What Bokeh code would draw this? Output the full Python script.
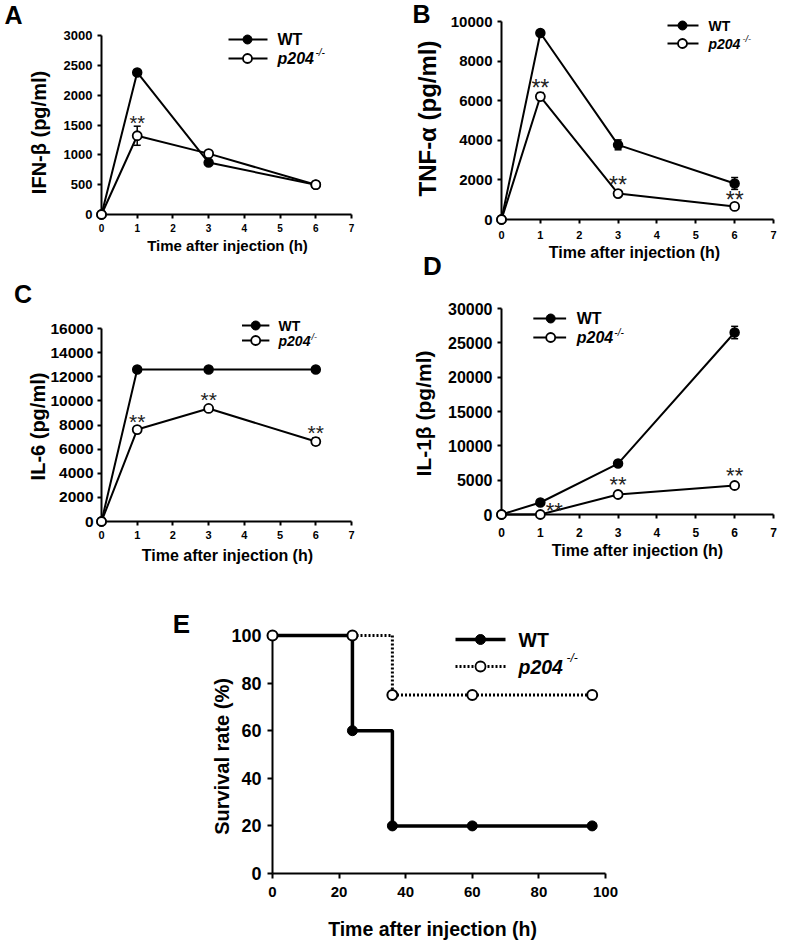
import numpy as np
from bokeh.plotting import figure
from bokeh.layouts import row, column
from bokeh.models import Range1d, FixedTicker
from bokeh.core.properties import value
from bokeh.embed import file_html
from bokeh.resources import INLINE

FONT = "Liberation Sans"

# ---------------- data ----------------
hours = [0, 1, 3, 6]
hour_ticks = [0, 1, 2, 3, 4, 5, 6, 7]

ifnb_wt = [0, 2380, 870, 500]
ifnb_wt_err = [0, 40, 40, 25]
ifnb_ko = [0, 1320, 1020, 500]
ifnb_ko_err = [0, 160, 30, 20]
ifnb_sig = [0, 1, 0, 0]
ifnb_ticks = [0, 500, 1000, 1500, 2000, 2500, 3000]

tnfa_wt = [0, 9420, 3770, 1820]
tnfa_wt_err = [0, 120, 250, 300]
tnfa_ko = [0, 6210, 1310, 660]
tnfa_ko_err = [0, 200, 80, 80]
tnfa_sig = [0, 1, 1, 1]
tnfa_ticks = [0, 2000, 4000, 6000, 8000, 10000]

il6_wt = [0, 12600, 12600, 12600]
il6_wt_err = [0, 150, 150, 150]
il6_ko = [0, 7620, 9370, 6630]
il6_ko_err = [0, 200, 200, 300]
il6_sig = [0, 1, 1, 1]
il6_ticks = [0, 2000, 4000, 6000, 8000, 10000, 12000, 14000, 16000]

il1b_wt = [0, 1750, 7420, 26500]
il1b_wt_err = [0, 250, 400, 900]
il1b_ko = [0, 0, 2910, 4220]
il1b_ko_err = [0, 0, 200, 250]
il1b_sig = [0, 1, 1, 1]
il1b_ticks = [0, 5000, 10000, 15000, 20000, 25000, 30000]

surv_hours = [0, 24, 36, 60, 96]
surv_wt = [100, 60, 20, 20, 20]
surv_ko = [100, 100, 75, 75, 75]
surv_hour_ticks = [0, 20, 40, 60, 80, 100]
surv_ticks = [0, 20, 40, 60, 80, 100]


# ---------------- helpers ----------------
class Panel:
    def __init__(self, box, frame, xr, yr):
        self.box, self.frame, self.xr, self.yr = box, frame, xr, yr
        fx, fy, fw, fh = box
        L, R, T, B = frame
        p = figure(width=fw, height=fh, x_range=Range1d(*xr), y_range=Range1d(*yr),
                   output_backend="svg", toolbar_location=None,
                   min_border_left=L - fx, min_border_right=fx + fw - R,
                   min_border_top=T - fy, min_border_bottom=fy + fh - B)
        p.grid.visible = False
        p.outline_line_color = None
        p.background_fill_color = "white"
        p.border_fill_color = "white"
        self.p = p

    def x(self, px):
        L, R, _, _ = self.frame
        return self.xr[0] + (px - L) / (R - L) * (self.xr[1] - self.xr[0])

    def y(self, py):
        _, _, T, B = self.frame
        return self.yr[0] + (B - py) / (B - T) * (self.yr[1] - self.yr[0])

    def label(self, px, py, text, fs, style="bold", align="center", baseline="middle",
              angle=0.0, color="black"):
        self.p.text([self.x(px)], [self.y(py)], text=[text], angle=angle,
                    text_font=value(FONT), text_font_size=f"{fs}px",
                    text_font_style=style, text_align=align, text_baseline=baseline,
                    text_color=color, level="overlay")


def style_axes(P, xticks, yticks, xfs, yfs, xstand, ystand, tick_out=4, lw=2):
    p = P.p
    for ax in (p.xaxis[0], p.yaxis[0]):
        ax.axis_line_width = lw
        ax.axis_line_color = "black"
        ax.major_tick_line_width = lw
        ax.major_tick_line_color = "black"
        ax.major_tick_out = tick_out
        ax.major_tick_in = 0
        ax.minor_tick_line_color = None
        ax.major_label_text_font = FONT
        ax.major_label_text_font_style = "bold"
        ax.major_label_text_color = "black"
    p.xaxis[0].ticker = FixedTicker(ticks=xticks)
    p.yaxis[0].ticker = FixedTicker(ticks=yticks)
    p.xaxis[0].major_label_text_font_size = f"{xfs}px"
    p.yaxis[0].major_label_text_font_size = f"{yfs}px"
    p.xaxis[0].major_label_standoff = xstand
    p.yaxis[0].major_label_standoff = ystand


def cytokine(P, wt, wt_err, ko, ko_err, sig, msize, star_fs, star_above, star_dx=None):
    p = P.p
    t = np.array(hours, float)
    p.line(t, wt, line_color="black", line_width=2, level="overlay")
    p.line(t, ko, line_color="black", line_width=2, level="overlay")
    for vals, errs in ((wt, wt_err), (ko, ko_err)):
        v = np.array(vals, float)
        e = np.array(errs, float)
        m = e > 0
        p.segment(x0=t[m], y0=v[m] - e[m], x1=t[m], y1=v[m] + e[m],
                  line_color="black", line_width=1.5, level="overlay")
        p.scatter(np.r_[t[m], t[m]], np.r_[v[m] - e[m], v[m] + e[m]], marker="dash",
                  size=7, line_color="black", line_width=1.5, level="overlay")
    p.scatter(t, wt, marker="circle", size=msize, fill_color="black",
              line_color="black", line_width=1.5, level="overlay")
    p.scatter(t, ko, marker="circle", size=msize, fill_color="white",
              line_color="black", line_width=1.8, level="overlay")
    s = np.array(sig, bool)
    n = int(s.sum())
    above = np.array(star_above, float)[s]
    dx = np.zeros(n) if star_dx is None else np.array(star_dx, float)[s]
    p.text(t[s], np.array(ko, float)[s], text=["**"] * n,
           x_offset=dx, y_offset=-(above - 0.2 * star_fs),
           text_font=value(FONT), text_font_size=f"{star_fs}px",
           text_align="center", text_baseline="alphabetic", text_color="#222222",
           level="overlay")


def legend(P, x0, x1, xm, y_wt, y_ko, tx, fs, sup_x, sup_y, sup_fs, msize,
           lw_wt=2, lw_ko=2, dash_ko="solid"):
    p = P.p
    p.line([P.x(x0), P.x(x1)], [P.y(y_wt)] * 2, line_color="black", line_width=lw_wt,
           level="overlay")
    p.scatter([P.x(xm)], [P.y(y_wt)], marker="circle", size=msize, fill_color="black",
              line_color="black", level="overlay")
    p.line([P.x(x0), P.x(x1)], [P.y(y_ko)] * 2, line_color="black", line_width=lw_ko,
           line_dash=dash_ko, level="overlay")
    p.scatter([P.x(xm)], [P.y(y_ko)], marker="circle", size=msize, fill_color="white",
              line_color="black", line_width=1.8, level="overlay")
    P.label(tx, y_wt, "WT", fs, align="left")
    P.label(tx, y_ko, "p204", fs, style="bold italic", align="left")
    P.label(sup_x, sup_y, "-/-", sup_fs, style="italic", align="left")


VERT = np.pi / 2
XT = "Time after injection (h)"

# ---------------- panel A ----------------
A = Panel((0, 0, 395, 270), (101, 351, 35, 214), (0, 7), (0, 3000))
style_axes(A, hour_ticks, ifnb_ticks, 10, 13, 5, 5)
cytokine(A, ifnb_wt, ifnb_wt_err, ifnb_ko, ifnb_ko_err, ifnb_sig, 9, 20,
         [0, 17, 0, 0])
legend(A, 228, 267, 247, 39, 58, 277, 16, 315, 52, 10, 9)
A.label(13, 14, "A", 25)
A.label(38, 132, "IFN-β (pg/ml)", 20, angle=VERT)
A.label(227, 245, XT, 15)

# ---------------- panel B ----------------
B = Panel((395, 0, 395, 281), (501, 773, 21, 219), (0, 7), (0, 10000))
style_axes(B, hour_ticks, tnfa_ticks, 11, 15, 7, 5)
cytokine(B, tnfa_wt, tnfa_wt_err, tnfa_ko, tnfa_ko_err, tnfa_sig, 9, 23,
         [0, 13, 13, 11])
legend(B, 667, 698, 682, 25, 43, 708, 14, 742, 38, 9, 9)
B.label(421, 13, "B", 25)
B.label(427, 118, "TNF-α (pg/ml)", 24, angle=VERT)
B.label(634, 252, XT, 16)
B.label(432, 265, "D", 26)

# ---------------- panel C ----------------
C = Panel((0, 270, 395, 300), (98, 372, 328, 521), (0, 7), (0, 16000))
style_axes(C, hour_ticks, il6_ticks, 11, 15.5, 5, 4)
cytokine(C, il6_wt, il6_wt_err, il6_ko, il6_ko_err, il6_sig, 9, 21,
         [0, 12, 13, 13])
legend(C, 252, 282, 267, 325, 340, 292, 14, 325, 336, 9, 9)
C.label(12, 293, "C", 25)
C.label(28, 426, "IL-6 (pg/ml)", 20, angle=VERT)
C.label(236, 555, XT, 16)

# ---------------- panel D ----------------
D = Panel((395, 281, 395, 289), (501, 783, 308, 514), (0, 7), (0, 30000))
style_axes(D, hour_ticks, il1b_ticks, 12, 16, 9, 5)
cytokine(D, il1b_wt, il1b_wt_err, il1b_ko, il1b_ko_err, il1b_sig, 9, 22,
         [0, 8, 14, 14], star_dx=[0, 14, 0, 0])
legend(D, 534, 568, 552, 318, 337, 579, 16, 618, 332, 10, 9)
D.label(420, 413, "IL-1β (pg/ml)", 21, angle=VERT)
D.label(642, 550, XT, 16)

# ---------------- panel E ----------------
E = Panel((0, 570, 630, 371), (272, 605, 635, 873), (0, 100), (0, 100))
style_axes(E, surv_hour_ticks, surv_ticks, 15, 18, 8, 6, tick_out=5)
pe = E.p
pe.step(surv_hours, surv_wt, mode="after", line_color="black", line_width=3.5,
        level="overlay")
pe.step(surv_hours, surv_ko, mode="after", line_color="black", line_width=3,
        line_dash="2 2", level="overlay")
pe.scatter(surv_hours, surv_wt, marker="circle", size=10, fill_color="black",
           line_color="black", level="overlay")
pe.scatter(surv_hours, surv_ko, marker="circle", size=10, fill_color="white",
           line_color="black", line_width=2, level="overlay")
legend(E, 455, 505, 480, 639, 666, 518, 19.5, 566, 657, 12, 10,
       lw_wt=3.5, lw_ko=3, dash_ko="2 2")
E.label(181, 623, "E", 26)
E.label(221, 756, "Survival rate (%)", 20, angle=VERT)
E.label(432, 928, XT, 19.5)

layout = column(row(column(A.p, C.p), column(B.p, D.p)), E.p)

open("out.html", "w").write(file_html(layout, INLINE))
